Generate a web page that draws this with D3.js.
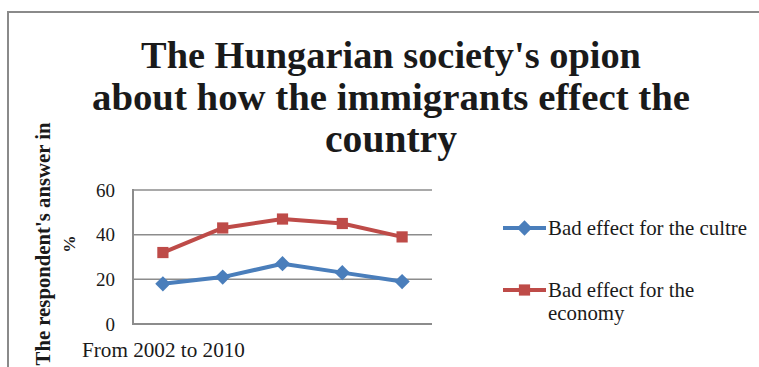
<!DOCTYPE html>
<html>
<head>
<meta charset="utf-8">
<script src="https://cdn.jsdelivr.net/npm/d3@7"></script>
<style>
  html, body { margin: 0; padding: 0; background: #fff; }
  svg { display: block; }
  text { font-family: "Liberation Serif", "Times New Roman", serif; fill: #1a1a1a; }
</style>
</head>
<body>
<svg id="chart" width="759" height="367"></svg>
<script>
// Survey years (the category axis carries no tick labels)
const periods = ["2002", "2004", "2006", "2008", "2010"];
const cultureValues = [18, 21, 27, 23, 19];
const economyValues = [32, 43, 47, 45, 39];
const seriesNames = ["Bad effect for the cultre", "Bad effect for the economy"];
const legendLines = [["Bad effect for the cultre"], ["Bad effect for the", "economy"]];
const yTicks = [0, 20, 40, 60];
const titleLines = ["The Hungarian society's opion", "about how the immigrants effect the", "country"];
const yTitleLines = ["The respondent's answer in", "%"];
const xTitle = "From 2002 to 2010";

const W = 759, H = 367;
const svg = d3.select("#chart");

// scale a text's font size so the rendered string spans the given width
function fit(sel, width) {
  const fs = parseFloat(sel.attr("font-size"));
  const len = sel.node().getComputedTextLength();
  const size = fs * width / len;
  sel.attr("font-size", size.toFixed(2));
  return size;
}

// chart frame
svg.append("path")
  .attr("d", `M${W + 2},12 H8 V${H + 2}`)
  .attr("fill", "none")
  .attr("stroke", "#8a8a8a")
  .attr("stroke-width", 2);

// title
const titleWidths = [500, 598, 132];
const titleBase = [68, 110, 152];
titleLines.forEach((t, i) => {
  const s = svg.append("text")
    .attr("x", 391).attr("y", titleBase[i])
    .attr("text-anchor", "middle")
    .attr("font-weight", "bold")
    .attr("font-size", 34)
    .text(t);
  fit(s, titleWidths[i]);
});

// plot area
const plot = { left: 133, right: 432, top: 190, bottom: 324 };
const x = d3.scaleBand().domain(periods).range([plot.left, plot.right]);
const y = d3.scaleLinear().domain([0, 60]).range([plot.bottom, plot.top]);
const cx = p => x(p) + x.bandwidth() / 2;

// gridlines
svg.append("g")
  .selectAll("line")
  .data(yTicks.filter(d => d > 0))
  .join("line")
  .attr("x1", plot.left).attr("x2", plot.right)
  .attr("y1", d => y(d)).attr("y2", d => y(d))
  .attr("stroke", "#8c8c8c")
  .attr("stroke-width", 1.5);

// axis lines
svg.append("line")
  .attr("x1", plot.left).attr("x2", plot.right)
  .attr("y1", y(0)).attr("y2", y(0))
  .attr("stroke", "#8c8c8c").attr("stroke-width", 2);
svg.append("line")
  .attr("x1", plot.left).attr("x2", plot.left)
  .attr("y1", y(60) - 1).attr("y2", y(0) + 1)
  .attr("stroke", "#8c8c8c").attr("stroke-width", 2);

// y tick labels via the axis generator
const yAxis = svg.append("g")
  .attr("transform", `translate(${plot.left},0)`)
  .call(d3.axisLeft(y).tickValues(yTicks).tickSize(0).tickPadding(18));
yAxis.select(".domain").remove();
yAxis.selectAll("text")
  .attr("font-family", '"Liberation Serif", serif')
  .attr("font-size", 19)
  .attr("fill", "#1a1a1a");

// x axis title
const xt = svg.append("text")
  .attr("x", 82).attr("y", 357)
  .attr("font-size", 19)
  .text(xTitle);
fit(xt, 163);

// y axis title
const yTitleX = [50, 75];
yTitleLines.forEach((t, i) => {
  const s = svg.append("text")
    .attr("transform", `translate(${yTitleX[i]},244) rotate(-90)`)
    .attr("text-anchor", "middle")
    .attr("font-weight", "bold")
    .attr("font-size", 17.5)
    .text(t);
  if (i === 0) fit(s, 243);
});

// series
const series = [
  { name: seriesNames[0], values: cultureValues, color: "#4a7ebb", symbol: d3.symbolDiamond2, size: 150 },
  { name: seriesNames[1], values: economyValues, color: "#be4b48", symbol: d3.symbolSquare2, size: 160 }
];
const line = d3.line()
  .x((d, i) => cx(periods[i]))
  .y(d => y(d));

series.forEach(s => {
  const g = svg.append("g");
  g.append("path")
    .datum(s.values)
    .attr("d", line)
    .attr("fill", "none")
    .attr("stroke", s.color)
    .attr("stroke-width", 4)
    .attr("stroke-linejoin", "round");
  g.selectAll("path.mark")
    .data(s.values)
    .join("path")
    .attr("class", "mark")
    .attr("transform", (d, i) => `translate(${cx(periods[i])},${y(d)})`)
    .attr("d", d3.symbol().type(s.symbol).size(s.size))
    .attr("fill", s.color);
});

// legend
const legendY = [228, 290];
const legendBase = [[235], [297, 320]];
let legendSize = 19;
series.forEach((s, i) => {
  const g = svg.append("g");
  g.append("line")
    .attr("x1", 503).attr("x2", 546)
    .attr("y1", legendY[i]).attr("y2", legendY[i])
    .attr("stroke", s.color).attr("stroke-width", 4);
  g.append("path")
    .attr("transform", `translate(524.5,${legendY[i]})`)
    .attr("d", d3.symbol().type(s.symbol).size(s.size))
    .attr("fill", s.color);
  legendLines[i].forEach((t, j) => {
    const tx = g.append("text")
      .attr("x", 548).attr("y", legendBase[i][j])
      .attr("font-size", legendSize)
      .text(t);
    if (i === 0) legendSize = fit(tx, 199);
  });
});
</script>
</body>
</html>
